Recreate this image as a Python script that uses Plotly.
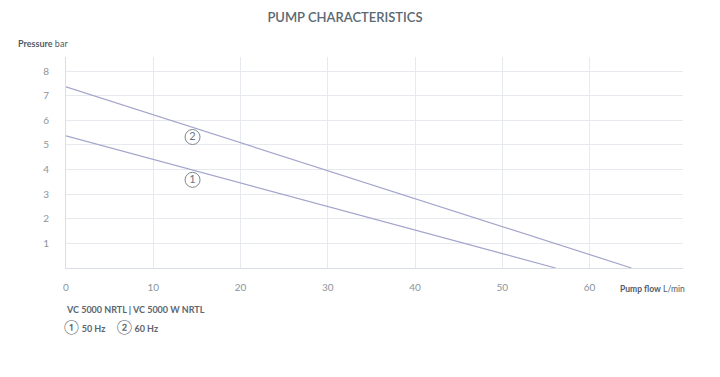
import plotly.graph_objects as go

flow_50 = [0, 56.1]
pressure_50 = [5.37, 0]
flow_60 = [0, 64.8]
pressure_60 = [7.36, 0]
label_names = ["1", "2"]
label_x = [14.5, 14.5]
label_y = [3.58, 5.32]
x_ticks = [0, 10, 20, 30, 40, 50, 60]
y_ticks = [1, 2, 3, 4, 5, 6, 7, 8]

line_color = "#a3a5cc"
grid_color = "#e6e9ee"
text_color = "#6b7780"
font_family = "Lato, Open Sans, sans-serif"

fig = go.Figure()
fig.add_trace(go.Scatter(x=flow_50, y=pressure_50, mode="lines",
                         line=dict(color=line_color, width=1.2), hoverinfo="skip"))
fig.add_trace(go.Scatter(x=flow_60, y=pressure_60, mode="lines",
                         line=dict(color=line_color, width=1.2), hoverinfo="skip"))
fig.add_trace(go.Scatter(x=label_x, y=label_y, mode="markers+text", text=label_names,
                         textposition="middle center",
                         textfont=dict(family=font_family, size=11, color="#6b7780"),
                         marker=dict(symbol="circle", size=15, color="white",
                                     line=dict(color="#7d8890", width=1)),
                         hoverinfo="skip"))

fig.update_layout(
    width=720, height=377,
    margin=dict(l=58, r=45, t=49, b=117),
    paper_bgcolor="white", plot_bgcolor="white",
    showlegend=False,
    font=dict(family=font_family, color=text_color, size=10),
    title=dict(text="PUMP CHARACTERISTICS", x=(345 - 8) / 720, xanchor="center",
               y=1 - (17 - 8) / 377, yanchor="middle",
               font=dict(family=font_family, size=13, color="#5a6873", weight=600)),
    xaxis=dict(range=[0, 70.7], tickvals=x_ticks, showgrid=True, gridcolor=grid_color,
               gridwidth=1, zeroline=False, showline=True, linecolor="#d9dee4",
               ticks="", ticklabelstandoff=10, tickfont=dict(size=10, color="#8a949c"),
               fixedrange=True),
    yaxis=dict(range=[0, 8.57], tickvals=y_ticks, showgrid=True, gridcolor=grid_color,
               gridwidth=1, zeroline=False, showline=True, linecolor="#d9dee4",
               ticks="", ticklabelstandoff=14, tickfont=dict(size=10, color="#8a949c"),
               fixedrange=True),
)

fig.add_annotation(xref="paper", yref="paper", x=-0.081, y=1.066, xanchor="left", yanchor="middle",
                   text="<b>Pressure</b> bar", showarrow=False,
                   font=dict(size=9, color="#4f5b66", family=font_family))
fig.add_annotation(xref="paper", yref="paper", x=1.006, y=-0.1, xanchor="right", yanchor="middle",
                   text="<b>Pump flow</b> L/min", showarrow=False,
                   font=dict(size=8.5, color="#4f5b66", family=font_family))
fig.add_annotation(xref="paper", yref="paper", x=-0.004, y=-0.199, xanchor="left", yanchor="middle",
                   text="<b>VC 5000 NRTL | VC 5000 W NRTL</b>", showarrow=False,
                   font=dict(size=9, color="#5a6670", family=font_family))
fig.add_annotation(xref="paper", yref="paper", x=-0.006, y=-0.275, xanchor="left", yanchor="middle",
                   text="<span style='font-size:14px'>\u2460</span><b> 50 Hz</b>     "
                        "<span style='font-size:14px'>\u2461</span><b> 60 Hz</b>",
                   showarrow=False,
                   font=dict(size=9, color="#5a6670", family=font_family))

fig.write_html("out.html")
